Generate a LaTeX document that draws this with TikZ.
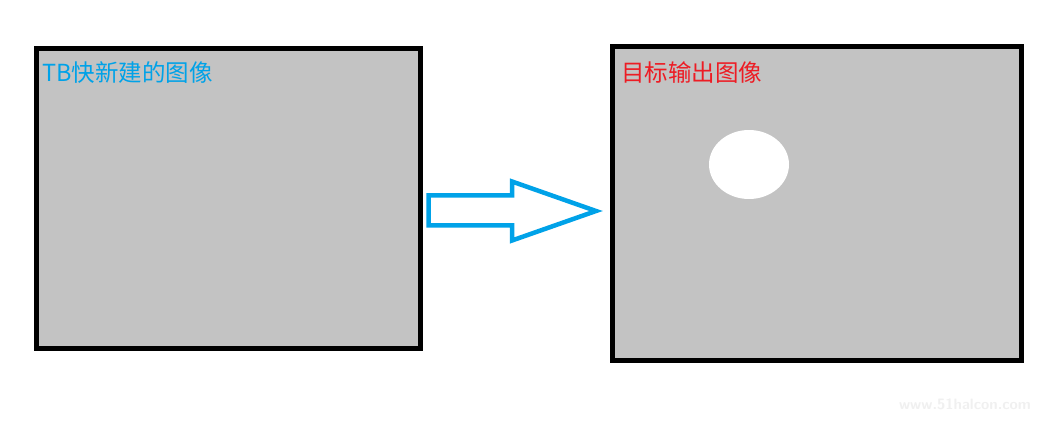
\documentclass[tikz,border=0pt]{standalone}
\usepackage{fontspec}
\newfontfamily\cjk{Noto Sans CJK SC}
\definecolor{boxgray}{HTML}{C3C3C3}
\definecolor{paintblue}{HTML}{00A2E8}
\definecolor{paintred}{HTML}{ED1C24}
\tikzset{
  imgbox/.style={draw=black, fill=boxgray, line width=5pt, inner sep=0pt},
  label/.style={font=\cjk\fontsize{23.5}{26}\selectfont, inner sep=0pt, anchor=base west},
}
\begin{document}
\begin{tikzpicture}[x=1pt,y=-1pt]
\useasboundingbox (0,0) rectangle (1044,422);
\fill[white] (0,0) rectangle (1044,422);
% boxes
\draw[imgbox] (36.5,48.5) rectangle (420.5,348.5);
\draw[imgbox] (612.5,46.5) rectangle (1021.5,360.5);
\node[imgbox, draw=none, fill=none, minimum width=1pt] (left) at (228.5,198.5) {};
\node[imgbox, draw=none, fill=none, minimum width=1pt] (right) at (817,203.5) {};
% labels
\node[label, text=paintblue] (lt) at (42,82) {TB快新建的图像};
\node[label, text=paintred] (rt) at (621,82) {目标输出图像};
% ellipse
\fill[white] (749,164.5) ellipse [x radius=40, y radius=34.5];
% hollow arrow
\draw[paintblue, line width=4.5pt, line join=miter, fill=white]
  (428.5,195.5) -- (512,195.5) -- (512,181.5) -- (596,211) -- (512,240.5) -- (512,225.5) -- (428.5,225.5) -- cycle;
% watermark
\node[font=\fontsize{15}{17}\selectfont\sffamily\bfseries, text=black!6, inner sep=0pt] (wm) at (965,404) {www.51halcon.com};
\end{tikzpicture}
\end{document}
